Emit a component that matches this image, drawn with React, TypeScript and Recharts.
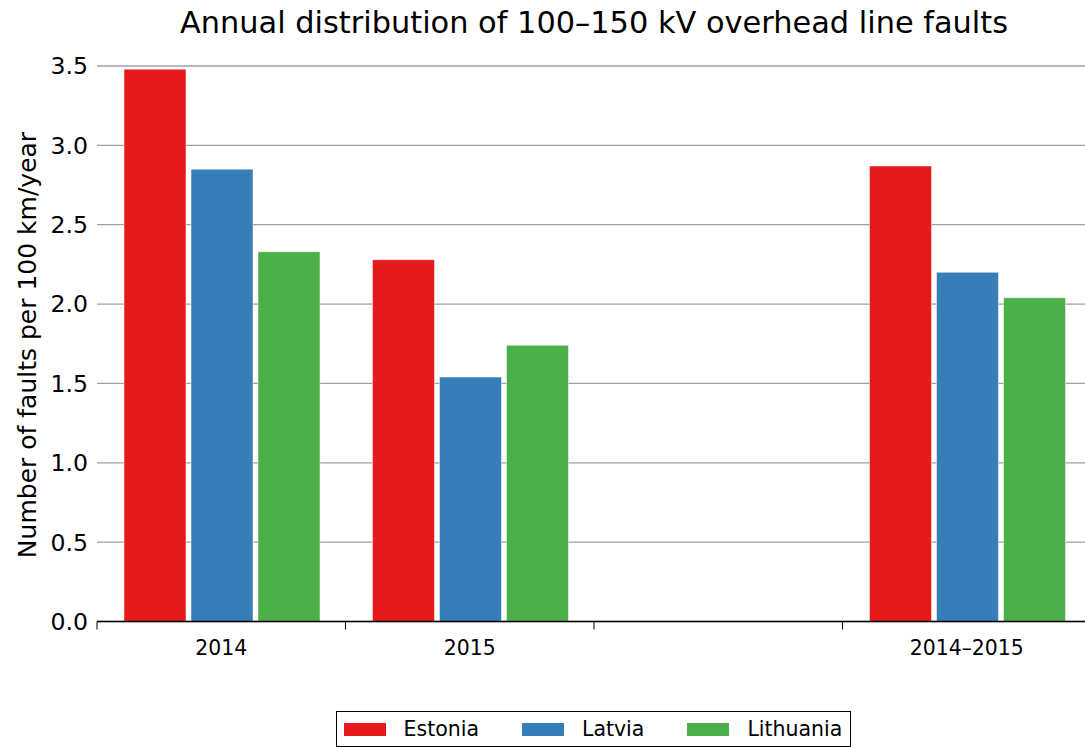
import React from 'react';
import { BarChart, Bar, XAxis, YAxis, CartesianGrid } from 'recharts';

const categories = ['2014', '2015', '', '2014–2015'];
const estonia = [3.48, 2.28, null, 2.87];
const latvia = [2.85, 1.54, null, 2.2];
const lithuania = [2.33, 1.74, null, 2.04];
const seriesNames = ['Estonia', 'Latvia', 'Lithuania'];
const seriesColors = ['#e41a1c', '#377eb8', '#4daf4a'];
const yTicks = [0, 0.5, 1, 1.5, 2, 2.5, 3, 3.5];
const title = 'Annual distribution of 100–150 kV overhead line faults';
const yLabel = 'Number of faults per 100 km/year';

const seriesValues = [estonia, latvia, lithuania];
const data = categories.map((c, i) => {
  const row: Record<string, any> = { category: c };
  seriesNames.forEach((n, s) => {
    row[n] = seriesValues[s][i];
  });
  return row;
});

const FONT = '"DejaVu Sans", Verdana, sans-serif';

// Category tick: label at the band centre, tick mark at the band's left edge
const CatTick = (props: any) => {
  const { x, y, payload } = props;
  const half = payload && typeof payload.offset === 'number' ? payload.offset : 0;
  const edge = x - half;
  return (
    <g>
      <line x1={edge} x2={edge} y1={y} y2={y + 8} stroke="#000" strokeWidth={1} />
      <text
        x={x}
        y={y + 19.5}
        dy="0.71em"
        textAnchor="middle"
        fontSize={20.4}
        fill="#000"
        fontFamily={FONT}
      >
        {payload.value}
      </text>
    </g>
  );
};

export default function App() {
  return (
    <div
      style={{
        position: 'relative',
        width: 1085,
        height: 747,
        overflow: 'hidden',
        fontFamily: FONT,
        background: '#fff',
      }}
    >
      <style>{'body{margin:0;}'}</style>
      <BarChart
        width={1092}
        height={747}
        data={data}
        margin={{ top: 66, right: 1, left: 0, bottom: 85.5 }}
        barCategoryGap={27}
        barGap={5}
      >
        <CartesianGrid vertical={false} stroke="#a0a0a0" strokeWidth={1.3} />
        <XAxis
          dataKey="category"
          height={40}
          axisLine={{ stroke: '#000', strokeWidth: 1.6 }}
          tickLine={false}
          tickSize={0}
          tickMargin={0}
          interval={0}
          tick={<CatTick />}
        />
        <YAxis
          width={97}
          domain={[0, 3.5]}
          ticks={yTicks}
          tickFormatter={(v: number) => v.toFixed(1)}
          axisLine={false}
          tickLine={false}
          tickSize={7}
          tickMargin={2}
          tick={{ fontSize: 23.6, fill: '#000', fontFamily: FONT }}
        />
        {seriesNames.map((n, s) => (
          <Bar
            key={n}
            dataKey={n}
            fill={seriesColors[s]}
            stroke="#ffffff"
            strokeOpacity={0.6}
            strokeWidth={0.8}
            isAnimationActive={false}
          />
        ))}
      </BarChart>
      <svg
        width={1085}
        height={747}
        style={{ position: 'absolute', left: 0, top: 0, pointerEvents: 'none' }}
      >
        <text
          x={594}
          y={33}
          textAnchor="middle"
          fontSize={30.4}
          fill="#000"
          fontFamily={FONT}
        >
          {title}
        </text>
        <text
          x={36}
          y={345}
          transform="rotate(-90 36 345)"
          textAnchor="middle"
          fontSize={25}
          fill="#000"
          fontFamily={FONT}
        >
          {yLabel}
        </text>
      </svg>
      <div
        style={{
          position: 'absolute',
          left: 336,
          top: 711,
          width: 515,
          height: 36,
          boxSizing: 'border-box',
          border: '1.6px solid #000',
          display: 'flex',
          alignItems: 'center',
          paddingLeft: 6.5,
          fontSize: 20.5,
          color: '#000',
          background: '#fff',
        }}
      >
        {seriesNames.map((n, s) => (
          <div key={n} style={{ display: 'flex', alignItems: 'center', marginRight: s < seriesNames.length - 1 ? 43 : 0 }}>
            <div style={{ width: 42, height: 13, background: seriesColors[s], marginRight: 18 }} />
            <span style={{ lineHeight: '24px' }}>{n}</span>
          </div>
        ))}
      </div>
    </div>
  );
}
